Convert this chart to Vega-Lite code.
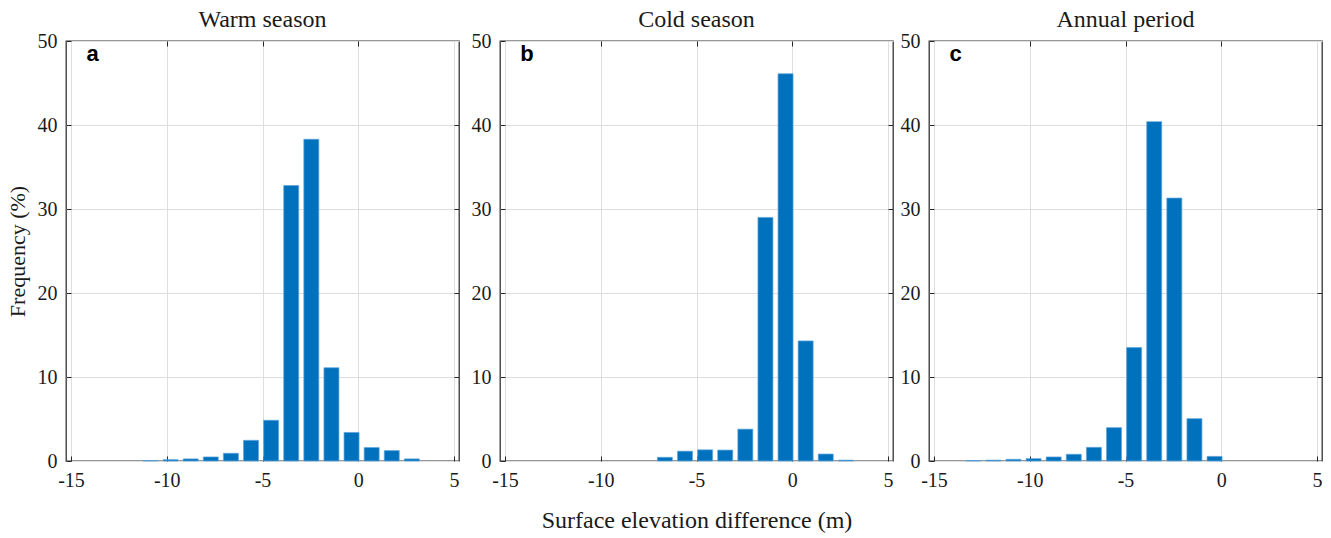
{
  "$schema": "https://vega.github.io/schema/vega-lite/v6.json",
  "padding": {"left": 5, "top": 7, "right": 8, "bottom": 5},
  "background": "white",
  "datasets": {
    "warm": [
      {"center": -10.85, "freq": 0.05}, {"center": -9.8, "freq": 0.16}, {"center": -8.75, "freq": 0.25},
      {"center": -7.7, "freq": 0.48}, {"center": -6.65, "freq": 0.92}, {"center": -5.6, "freq": 2.46},
      {"center": -4.55, "freq": 4.85}, {"center": -3.5, "freq": 32.8}, {"center": -2.45, "freq": 38.3},
      {"center": -1.4, "freq": 11.1}, {"center": -0.35, "freq": 3.4}, {"center": 0.7, "freq": 1.6},
      {"center": 1.75, "freq": 1.24}, {"center": 2.8, "freq": 0.25}
    ],
    "cold": [
      {"center": -6.65, "freq": 0.44}, {"center": -5.6, "freq": 1.17}, {"center": -4.55, "freq": 1.33},
      {"center": -3.5, "freq": 1.3}, {"center": -2.45, "freq": 3.79}, {"center": -1.4, "freq": 29.0},
      {"center": -0.35, "freq": 46.1}, {"center": 0.7, "freq": 14.3}, {"center": 1.75, "freq": 0.83},
      {"center": 2.8, "freq": 0.1}
    ],
    "annual": [
      {"center": -12.95, "freq": 0.05}, {"center": -11.9, "freq": 0.1}, {"center": -10.85, "freq": 0.2},
      {"center": -9.8, "freq": 0.28}, {"center": -8.75, "freq": 0.48}, {"center": -7.7, "freq": 0.8},
      {"center": -6.65, "freq": 1.63}, {"center": -5.6, "freq": 3.97}, {"center": -4.55, "freq": 13.5},
      {"center": -3.5, "freq": 40.4}, {"center": -2.45, "freq": 31.3}, {"center": -1.4, "freq": 5.04},
      {"center": -0.35, "freq": 0.55}
    ]
  },
  "config": {
    "font": "Liberation Serif",
    "view": {"stroke": "#333333", "strokeWidth": 1.3},
    "axis": {
      "domain": false,
      "grid": true,
      "gridColor": "#dedede",
      "gridWidth": 1,
      "tickColor": "#262626",
      "tickWidth": 1,
      "tickSize": -5,
      "labelFont": "Liberation Serif",
      "labelFontSize": 20,
      "labelColor": "#1a1a1a",
      "labelExpr": "replace(datum.label, '\u2212', '-')",
      "titleFont": "Liberation Serif",
      "titleFontWeight": "normal",
      "titleColor": "#1a1a1a"
    },
    "title": {"font": "Liberation Serif", "fontSize": 24, "fontWeight": "normal", "color": "#1a1a1a", "offset": -1}
  },
  "spacing": 9,
  "hconcat": [
    {
      "width": 393, "height": 420,
      "title": "Warm season",
      "resolve": {"axis": {"x": "independent", "y": "independent"}},
      "layer": [
        {
          "data": {"name": "warm"},
          "mark": {"type": "bar", "size": 15, "color": "#0072BD", "stroke": "#5fa3dc", "strokeWidth": 0.7},
          "encoding": {
            "x": {"field": "center", "type": "quantitative", "scale": {"domain": [-15, 5], "nice": false, "zero": false},
                  "axis": {"orient": "bottom", "values": [-15, -10, -5, 0, 5], "title": null, "labelPadding": 14}},
            "y": {"field": "freq", "type": "quantitative", "scale": {"domain": [0, 50], "nice": false},
                  "axis": {"orient": "left", "values": [0, 10, 20, 30, 40, 50], "title": "Frequency (%)", "titleFontSize": 22, "labelPadding": 14, "titlePadding": 8}}
          }
        },
        {
          "data": {"values": [{"label": "a", "lx": -13.87, "ly": 47.65}]},
          "mark": {"type": "text", "font": "Liberation Sans", "fontWeight": "bold", "fontSize": 22, "align": "center", "baseline": "alphabetic", "color": "#000000"},
          "encoding": {
            "x": {"field": "lx", "type": "quantitative", "scale": {"domain": [-15, 5], "nice": false, "zero": false},
                  "axis": {"orient": "top", "labels": false, "grid": false, "title": null, "values": [-10, -5, 0]}},
            "y": {"field": "ly", "type": "quantitative", "scale": {"domain": [0, 50], "nice": false},
                  "axis": {"orient": "right", "labels": false, "grid": false, "title": null, "values": [10, 20, 30, 40]}},
            "text": {"field": "label"}
          }
        }
      ]
    },
    {
      "spacing": 4,
      "hconcat": [
        {
          "width": 393, "height": 420,
          "title": "Cold season",
          "resolve": {"axis": {"x": "independent", "y": "independent"}},
          "layer": [
            {
              "data": {"name": "cold"},
              "mark": {"type": "bar", "size": 15, "color": "#0072BD", "stroke": "#5fa3dc", "strokeWidth": 0.7},
              "encoding": {
                "x": {"field": "center", "type": "quantitative", "scale": {"domain": [-15, 5], "nice": false, "zero": false},
                      "axis": {"orient": "bottom", "values": [-15, -10, -5, 0, 5], "title": "Surface elevation difference (m)", "titleFontSize": 24, "titlePadding": 18, "labelPadding": 14}},
                "y": {"field": "freq", "type": "quantitative", "scale": {"domain": [0, 50], "nice": false},
                      "axis": {"orient": "left", "values": [0, 10, 20, 30, 40, 50], "title": null, "labelPadding": 14}}
              }
            },
            {
              "data": {"values": [{"label": "b", "lx": -13.85, "ly": 47.65}]},
              "mark": {"type": "text", "font": "Liberation Sans", "fontWeight": "bold", "fontSize": 22, "align": "center", "baseline": "alphabetic", "color": "#000000"},
              "encoding": {
                "x": {"field": "lx", "type": "quantitative", "scale": {"domain": [-15, 5], "nice": false, "zero": false},
                      "axis": {"orient": "top", "labels": false, "grid": false, "title": null, "values": [-10, -5, 0]}},
                "y": {"field": "ly", "type": "quantitative", "scale": {"domain": [0, 50], "nice": false},
                      "axis": {"orient": "right", "labels": false, "grid": false, "title": null, "values": [10, 20, 30, 40]}},
                "text": {"field": "label"}
              }
            }
          ]
        },
        {
          "width": 393, "height": 420,
          "title": "Annual period",
          "resolve": {"axis": {"x": "independent", "y": "independent"}},
          "layer": [
            {
              "data": {"name": "annual"},
              "mark": {"type": "bar", "size": 15, "color": "#0072BD", "stroke": "#5fa3dc", "strokeWidth": 0.7},
              "encoding": {
                "x": {"field": "center", "type": "quantitative", "scale": {"domain": [-15, 5], "nice": false, "zero": false},
                      "axis": {"orient": "bottom", "values": [-15, -10, -5, 0, 5], "title": null, "labelPadding": 14}},
                "y": {"field": "freq", "type": "quantitative", "scale": {"domain": [0, 50], "nice": false},
                      "axis": {"orient": "left", "values": [0, 10, 20, 30, 40, 50], "title": null, "labelPadding": 14}}
              }
            },
            {
              "data": {"values": [{"label": "c", "lx": -13.87, "ly": 47.65}]},
              "mark": {"type": "text", "font": "Liberation Sans", "fontWeight": "bold", "fontSize": 22, "align": "center", "baseline": "alphabetic", "color": "#000000"},
              "encoding": {
                "x": {"field": "lx", "type": "quantitative", "scale": {"domain": [-15, 5], "nice": false, "zero": false},
                      "axis": {"orient": "top", "labels": false, "grid": false, "title": null, "values": [-10, -5, 0]}},
                "y": {"field": "ly", "type": "quantitative", "scale": {"domain": [0, 50], "nice": false},
                      "axis": {"orient": "right", "labels": false, "grid": false, "title": null, "values": [10, 20, 30, 40]}},
                "text": {"field": "label"}
              }
            }
          ]
        }
      ]
    }
  ]
}
